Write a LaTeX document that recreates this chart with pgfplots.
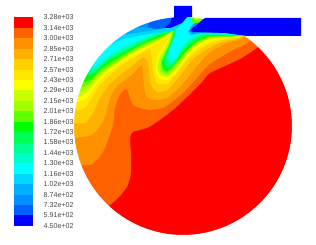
\documentclass[border=0pt]{standalone}
\usepackage{pgfplots}
\pgfplotsset{compat=1.18}
\usepackage{fontspec}
\setmainfont{Liberation Sans}
\definecolor{c0}{HTML}{FF0000}
\definecolor{c1}{HTML}{FF6000}
\definecolor{c2}{HTML}{FF9000}
\definecolor{c3}{HTML}{FFB000}
\definecolor{c4}{HTML}{FFD000}
\definecolor{c5}{HTML}{FFE800}
\definecolor{c6}{HTML}{FFFF00}
\definecolor{c7}{HTML}{C8FF00}
\definecolor{c8}{HTML}{A0FF00}
\definecolor{c9}{HTML}{60FF00}
\definecolor{c10}{HTML}{00FF00}
\definecolor{c11}{HTML}{00FF55}
\definecolor{c12}{HTML}{00FF90}
\definecolor{c13}{HTML}{00FFC8}
\definecolor{c14}{HTML}{00FFFF}
\definecolor{c15}{HTML}{00D8FF}
\definecolor{c16}{HTML}{00B0FF}
\definecolor{c17}{HTML}{0090FF}
\definecolor{c18}{HTML}{0060FF}
\definecolor{c19}{HTML}{0000FF}
\newcommand{\region}[2]{\addplot[fill=#1,draw=none,forget plot,mark=none] coordinates {#2} --cycle;}
\newcommand{\sregion}[2]{\addplot[fill=#1,draw=none,forget plot,mark=none,smooth,tension=0.35] coordinates {#2} --cycle;}
\newcommand{\lab}[2]{\node[anchor=west,inner sep=0pt,text=black!72,font=\fontsize{7.1}{8}\selectfont] at (axis cs:43.5,#1) {#2};}
\begin{document}
\begin{tikzpicture}
\begin{axis}[scale only axis,width=316pt,height=245pt,xmin=0,xmax=316,ymin=0,ymax=245,y dir=reverse,axis lines=none,clip=true]
% contour field
\region{c0}{(40,5)(300,5)(300,240)(40,240)}
\sregion{c1}{(109,206)(118,198)(127,187)(131,173)(131,153)(130,138)(133,132)(147,128)(157,122)(173,110)(187,97)(202,82)(210,73)(240,59)(258,47)(275,30)(275,5)(40,5)(40,230)(95,225)}
\sregion{c2}{(81,165)(90,165)(97,160)(103,152)(108,140)(113,125)(115,108)(119,96)(124,90)(127,89)(129,95)(133,105)(140,108)(150,110)(165,107)(183,93)(197,78)(210,64)(233,50)(250,40)(250,5)(40,5)(40,165)}
\sregion{c3}{(75,138)(92,135)(102,123)(107,110)(110,98)(117,86)(125,80)(133,74)(138,68)(142,65)(144,85)(147,97)(155,100)(167,98)(180,87)(197,66)(210,52)(227,43)(245,36)(245,5)(40,5)(40,138)}
\sregion{c4}{(75,123)(85,123)(93,113)(99,100)(108,86)(120,75)(132,66)(143,57)(147,60)(149,70)(151,85)(157,92)(167,90)(178,78)(192,60)(207,49)(225,41)(243,36)(243,5)(40,5)(40,123)}
\sregion{c5}{(77,110)(85,108)(92,98)(100,85)(112,73)(125,63)(138,55)(150,49)(152,58)(153,72)(157,83)(167,84)(177,73)(190,57)(205,46)(222,40)(242,35.5)(242,5)(40,5)(40,110)}
\sregion{c6}{(79,102)(87,98)(95,87)(105,75)(118,65)(130,57)(145,49)(160,41)(170,35)(163,48)(157,60)(156,70)(159,78)(167,80)(176,72)(188,56)(203,44)(220,39)(241,35)(241,5)(40,5)(40,102)}
\sregion{c7}{(80,97)(88,91)(97,80)(108,70)(122,60)(135,52)(150,45)(163,38)(171,33)(165,47)(159,58)(157,68)(160,75)(167,77)(175,71)(187,55)(200,43)(216,38)(241,35)(241,5)(40,5)(40,97)}
\sregion{c8}{(81,92)(88,87)(98,76)(110,67)(124,57)(138,49)(152,42)(164,37)(172,32)(167,46)(161,57)(159,66)(161,73)(167,75)(175,68)(186,54)(198,43)(214,37)(242,35)(242,5)(40,5)(40,92)}
\sregion{c9}{(83,87)(90,82)(100,72)(112,64)(126,55)(140,47)(155,40)(166,35)(173,31)(169,45)(163,56)(161,64)(162,71)(167,73)(174,67)(185,53)(197,42)(212,37)(243,34.5)(243,5)(40,5)(40,87)}
\sregion{c10}{(85,82)(92,78)(102,68)(114,60)(128,52)(142,44)(157,38)(168,33)(174,30)(170,44)(165,55)(162,62)(163,69)(167,71)(173,66)(184,53)(196,42)(210,36)(244,34)(244,5)(40,5)(40,82)}
\sregion{c11}{(88,76)(95,73)(104,64)(116,57)(130,49)(144,42)(158,36)(169,32)(175,29)(171,43)(166,54)(164,60)(165,67)(168,69)(174,64)(183,51)(195,41)(208,35)(245,34)(245,5)(40,5)(40,76)}
\sregion{c12}{(90,74)(97,70)(106,61)(118,54)(132,47)(146,40)(160,34)(170,31)(176,28)(172,42)(167,53)(166,58)(167,65)(170,66)(175,62)(183,49)(194,40)(206,35)(245,34)(245,5)(40,5)(40,74)}
\sregion{c13}{(93,70)(100,66)(108,58)(120,51)(134,44)(148,37)(162,32)(171,30)(177,27)(173,41)(169,51)(168,56)(169,63)(172,63)(176,59)(183,47)(192,39)(204,34)(245,33.5)(245,5)(40,5)(40,70)}
\sregion{c14}{(96,66)(103,60)(111,54)(123,47)(137,41)(151,35)(164,31)(172,29)(178,26)(174,39)(170,49)(169,55)(170,60)(173,60)(177,56)(183,46)(190,38)(202,33)(245,33)(245,5)(40,5)(40,66)}
% left cold zone along the rim
\region{c15}{(103,50)(112,44)(123,39)(143,35)(157,33)(168,32)(175,30)(182,24)(180,5)(90,5)}
\region{c16}{(112,40)(122,35)(135,33)(150,31)(165,28)(175,27)(180,22)(180,5)(100,5)}
\region{c17}{(125,28)(140,27)(150,28)(160,28)(170,25)(178,20)(178,5)(125,5)}
\region{c18}{(148,27)(155,29)(165,28)(175,23)(178,15)(150,15)}
% right cold zone under the inlet
\region{c15}{(190,36)(200,33.5)(245,33)(245,10)(200,10)(192,25)(188,31)}
\region{c17}{(191,34)(200,33)(245,32.5)(245,10)(200,10)(193,25)(189,31)}
% hot spot between the inlets
\region{c9}{(191,16)(206,16)(200,22)(193,24)}
\region{c6}{(194,16)(203,16)(199,19)(195,20)}
% cold patch below the first inlet
\region{c19}{(174,12)(192,12)(187,17)(182,23)(170,28)(165,28)(170,23)}
% everything outside the disc
\fill[white,even odd rule] (axis cs:0,0) rectangle (axis cs:316,245) (axis cs:183,126) circle [radius=109];
% inlets
\region{c19}{(174,6)(192,6)(192,17)(187,17)(182,23)(174,23)}
\region{c19}{(205,18)(301,18)(301,36)(247,36)(225,33)(200,32)(192,32)(190,30)(198,24)}
% colour bar
\region{c0}{(14,17.5)(33,17.5)(33,27.92)(14,27.92)}
\region{c1}{(14,27.92)(33,27.92)(33,38.34)(14,38.34)}
\region{c2}{(14,38.34)(33,38.34)(33,48.76)(14,48.76)}
\region{c3}{(14,48.76)(33,48.76)(33,59.18)(14,59.18)}
\region{c4}{(14,59.18)(33,59.18)(33,69.6)(14,69.6)}
\region{c5}{(14,69.6)(33,69.6)(33,80.02)(14,80.02)}
\region{c6}{(14,80.02)(33,80.02)(33,90.44)(14,90.44)}
\region{c7}{(14,90.44)(33,90.44)(33,100.86)(14,100.86)}
\region{c8}{(14,100.86)(33,100.86)(33,111.28)(14,111.28)}
\region{c9}{(14,111.28)(33,111.28)(33,121.7)(14,121.7)}
\region{c10}{(14,121.7)(33,121.7)(33,132.12)(14,132.12)}
\region{c11}{(14,132.12)(33,132.12)(33,142.54)(14,142.54)}
\region{c12}{(14,142.54)(33,142.54)(33,152.96)(14,152.96)}
\region{c13}{(14,152.96)(33,152.96)(33,163.38)(14,163.38)}
\region{c14}{(14,163.38)(33,163.38)(33,173.8)(14,173.8)}
\region{c15}{(14,173.8)(33,173.8)(33,184.22)(14,184.22)}
\region{c16}{(14,184.22)(33,184.22)(33,194.64)(14,194.64)}
\region{c17}{(14,194.64)(33,194.64)(33,205.06)(14,205.06)}
\region{c18}{(14,205.06)(33,205.06)(33,215.48)(14,215.48)}
\region{c19}{(14,215.48)(33,215.48)(33,225.9)(14,225.9)}
\lab{17.5}{3.28e+03}
\lab{27.9}{3.14e+03}
\lab{38.3}{3.00e+03}
\lab{48.8}{2.85e+03}
\lab{59.2}{2.71e+03}
\lab{69.6}{2.57e+03}
\lab{80.0}{2.43e+03}
\lab{90.4}{2.29e+03}
\lab{100.9}{2.15e+03}
\lab{111.3}{2.01e+03}
\lab{121.7}{1.86e+03}
\lab{132.1}{1.72e+03}
\lab{142.5}{1.58e+03}
\lab{153.0}{1.44e+03}
\lab{163.4}{1.30e+03}
\lab{173.8}{1.16e+03}
\lab{184.2}{1.02e+03}
\lab{194.6}{8.74e+02}
\lab{205.1}{7.32e+02}
\lab{215.5}{5.91e+02}
\lab{225.9}{4.50e+02}
\end{axis}
\end{tikzpicture}
\end{document}
